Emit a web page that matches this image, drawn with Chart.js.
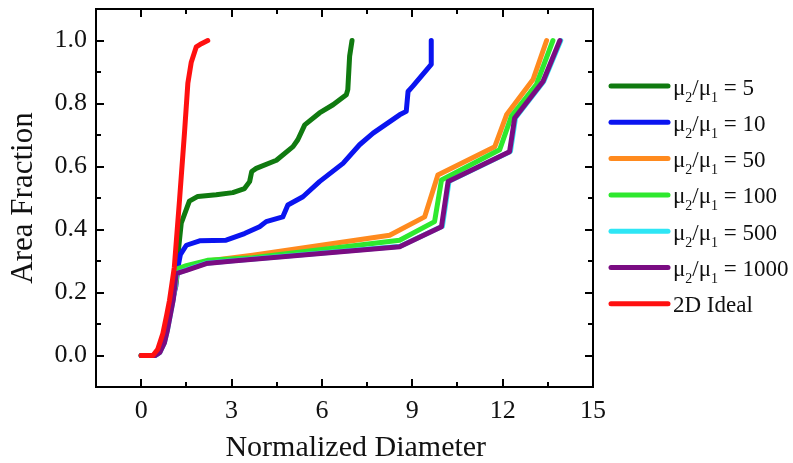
<!DOCTYPE html>
<html>
<head>
<meta charset="utf-8">
<script src="https://cdn.jsdelivr.net/npm/chart.js@4/dist/chart.umd.min.js"></script>
<style>
html,body{margin:0;padding:0;background:#fff;}
canvas{display:block;}
</style>
</head>
<body>
<canvas id="c" width="793" height="463"></canvas>
<script>
// ---- data ----
const xTickValues = [0, 3, 6, 9, 12, 15];
const yTickValues = [0, 0.2, 0.4, 0.6, 0.8, 1.0];
const xMinorValues = [1.5, 4.5, 7.5, 10.5, 13.5];
const yMinorValues = [0.1, 0.3, 0.5, 0.7, 0.9];

const seriesLabels = ['μ₂/μ₁ = 5', 'μ₂/μ₁ = 10', 'μ₂/μ₁ = 50', 'μ₂/μ₁ = 100', 'μ₂/μ₁ = 500', 'μ₂/μ₁ = 1000', '2D Ideal'];
const ratioValues = ['5', '10', '50', '100', '500', '1000', null];
const seriesColors = ['#107a10', '#0a14f0', '#ff8a1e', '#2ee82e', '#2ee6f5', '#7a0c82', '#ff1010'];

const ratio5X = [0, 0.45, 0.6, 0.75, 0.85, 0.95, 1.05, 1.15, 1.22, 1.33, 1.6, 1.88, 2.49, 3.04, 3.43, 3.6, 3.67, 3.82, 4.49, 5.04, 5.2, 5.43, 5.92, 6.37, 6.81, 6.86, 6.92, 7.0];
const ratio5Y = [0, 0, 0.01, 0.04, 0.09, 0.15, 0.21, 0.26, 0.32, 0.42, 0.49, 0.505, 0.51, 0.517, 0.53, 0.552, 0.584, 0.594, 0.62, 0.663, 0.685, 0.732, 0.77, 0.796, 0.828, 0.844, 0.95, 1.0];

const ratio10X = [0, 0.45, 0.6, 0.75, 0.85, 0.95, 1.05, 1.15, 1.22, 1.3, 1.5, 1.94, 2.82, 3.43, 3.93, 4.15, 4.7, 4.87, 5.37, 5.92, 6.7, 7.25, 7.7, 8.58, 8.8, 8.86, 9.02, 9.63, 9.63];
const ratio10Y = [0, 0, 0.01, 0.04, 0.08, 0.13, 0.18, 0.22, 0.28, 0.32, 0.35, 0.364, 0.366, 0.387, 0.409, 0.425, 0.44, 0.478, 0.504, 0.552, 0.61, 0.669, 0.706, 0.764, 0.775, 0.838, 0.855, 0.924, 1.0];

const ratio50X = [0, 0.45, 0.6, 0.75, 0.85, 0.95, 1.05, 1.15, 1.2, 1.5, 2.2, 3.7, 8.25, 9.41, 9.85, 11.74, 12.13, 13.01, 13.46];
const ratio50Y = [0, 0, 0.01, 0.04, 0.08, 0.13, 0.18, 0.23, 0.27, 0.28, 0.3, 0.318, 0.382, 0.44, 0.573, 0.663, 0.764, 0.876, 1.0];

const ratio100X = [0, 0.45, 0.6, 0.75, 0.85, 0.95, 1.05, 1.15, 1.2, 1.5, 2.2, 3.7, 8.58, 9.74, 9.97, 11.9, 12.29, 13.12, 13.67];
const ratio100Y = [0, 0, 0.01, 0.04, 0.08, 0.13, 0.18, 0.23, 0.275, 0.285, 0.302, 0.31, 0.366, 0.425, 0.557, 0.653, 0.759, 0.86, 1.0];

const ratio500X = [0, 0.47, 0.62, 0.77, 0.87, 0.97, 1.07, 1.17, 1.5, 2.16, 3.04, 8.6, 10.0, 10.22, 12.26, 12.43, 13.37, 13.93];
const ratio500Y = [0, 0, 0.01, 0.04, 0.08, 0.13, 0.18, 0.26, 0.272, 0.293, 0.301, 0.347, 0.41, 0.553, 0.648, 0.755, 0.871, 1.0];

const ratio1000X = [0, 0.47, 0.62, 0.77, 0.87, 0.97, 1.07, 1.16, 1.5, 2.16, 3.04, 8.58, 9.97, 10.19, 12.23, 12.4, 13.34, 13.9];
const ratio1000Y = [0, 0, 0.01, 0.04, 0.08, 0.13, 0.18, 0.26, 0.27, 0.292, 0.3, 0.345, 0.409, 0.552, 0.647, 0.754, 0.87, 1.0];

const idealX = [0, 0.39, 0.55, 0.72, 0.85, 0.94, 1.1, 1.27, 1.44, 1.55, 1.66, 1.83, 2.0, 2.21];
const idealY = [0, 0, 0.02, 0.07, 0.13, 0.175, 0.28, 0.49, 0.71, 0.865, 0.93, 0.98, 0.99, 1.0];

const seriesX = [ratio5X, ratio10X, ratio50X, ratio100X, ratio500X, ratio1000X, idealX];
const seriesY = [ratio5Y, ratio10Y, ratio50Y, ratio100Y, ratio500Y, ratio1000Y, idealY];
// drawing order: lower = on top
const drawOrder = [6, 5, 4, 3, 2, 1, 0];

const SERIF = '"Liberation Serif", "Times New Roman", serif';

const datasets = seriesLabels.map((lab, i) => ({
  label: lab,
  data: seriesX[i].map((x, k) => ({x: x, y: seriesY[i][k]})),
  borderColor: seriesColors[i],
  backgroundColor: seriesColors[i],
  borderWidth: 5,
  borderCapStyle: 'round',
  borderJoinStyle: 'round',
  pointRadius: 0,
  tension: 0,
  fill: false,
  order: drawOrder[i]
}));

const framePlugin = {
  id: 'frame',
  afterDraw(chart) {
    const ctx = chart.ctx, a = chart.chartArea;
    const xs = chart.scales.x, ys = chart.scales.y;
    ctx.save();
    ctx.strokeStyle = '#000';
    ctx.lineWidth = 2;
    ctx.strokeRect(a.left, a.top, a.right - a.left, a.bottom - a.top);
    ctx.lineWidth = 2;
    ctx.beginPath();
    const tickX = (v, len) => {
      const p = Math.round(xs.getPixelForValue(v));
      ctx.moveTo(p, a.bottom); ctx.lineTo(p, a.bottom - len);
      ctx.moveTo(p, a.top); ctx.lineTo(p, a.top + len);
    };
    const tickY = (v, len) => {
      const p = Math.round(ys.getPixelForValue(v));
      ctx.moveTo(a.left, p); ctx.lineTo(a.left + len, p);
      ctx.moveTo(a.right, p); ctx.lineTo(a.right - len, p);
    };
    xTickValues.forEach(v => tickX(v, 8));
    xMinorValues.forEach(v => tickX(v, 5));
    yTickValues.forEach(v => tickY(v, 8));
    yMinorValues.forEach(v => tickY(v, 5));
    ctx.stroke();

    // legend
    const lx0 = 611, lx1 = 668, tx = 673, y0 = 86, dy = 36.3;
    chart.data.datasets.forEach((ds, i) => {
      const y = y0 + i * dy;
      ctx.strokeStyle = ds.borderColor;
      ctx.lineWidth = 5;
      ctx.lineCap = 'round';
      ctx.beginPath();
      ctx.moveTo(lx0, y); ctx.lineTo(lx1, y);
      ctx.stroke();
      ctx.fillStyle = '#111';
      ctx.textBaseline = 'alphabetic';
      ctx.textAlign = 'left';
      const base = y + 8.5;
      const big = '23px ' + SERIF, small = '14px ' + SERIF;
      let x = tx;
      const put = (t, f, dyy) => { ctx.font = f; ctx.fillText(t, x, base + dyy); x += ctx.measureText(t).width; };
      if (ratioValues[i] !== null) {
        put('μ', big, 0); put('2', small, 7); put('/μ', big, 0); put('1', small, 7); put(' = ' + ratioValues[i], big, 0);
      } else {
        put(ds.label, big, 0);
      }
    });
    ctx.restore();
  }
};

new Chart(document.getElementById('c'), {
  type: 'line',
  data: { datasets },
  options: {
    responsive: false,
    animation: false,
    layout: { padding: { left: 0, right: 200, top: 9, bottom: 0 } },
    plugins: { legend: { display: false }, tooltip: { enabled: false } },
    scales: {
      x: {
        type: 'linear', min: -1.5, max: 15, position: 'bottom',
        grid: { display: false, drawTicks: false, tickLength: 0 }, border: { display: false },
        afterBuildTicks: s => { s.ticks = xTickValues.map(v => ({ value: v })); },
        afterFit: s => { s.height = 76; s.paddingLeft = 0; s.paddingRight = 0; },
        ticks: { font: { family: SERIF, size: 26 }, color: '#111', padding: 9, maxRotation: 0,
                 callback: v => String(v) },
        title: { display: true, text: '   Normalized Diameter', color: '#111',
                 font: { family: SERIF, size: 30, lineHeight: 1 }, padding: { top: 0, bottom: 0 } }
      },
      y: {
        type: 'linear', min: -0.1, max: 1.1,
        grid: { display: false, drawTicks: false, tickLength: 0 }, border: { display: false },
        afterBuildTicks: s => { s.ticks = yTickValues.map(v => ({ value: v })); },
        afterFit: s => { s.width = 96; s.paddingTop = 0; s.paddingBottom = 0; },
        ticks: { font: { family: SERIF, size: 26 }, color: '#111', padding: 9,
                 callback: v => Number(v).toFixed(1) },
        title: { display: true, text: 'Area Fraction', color: '#111',
                 font: { family: SERIF, size: 31, lineHeight: 1 }, padding: { top: 8, bottom: 0 } }
      }
    }
  },
  plugins: [framePlugin]
});
</script>
</body>
</html>
